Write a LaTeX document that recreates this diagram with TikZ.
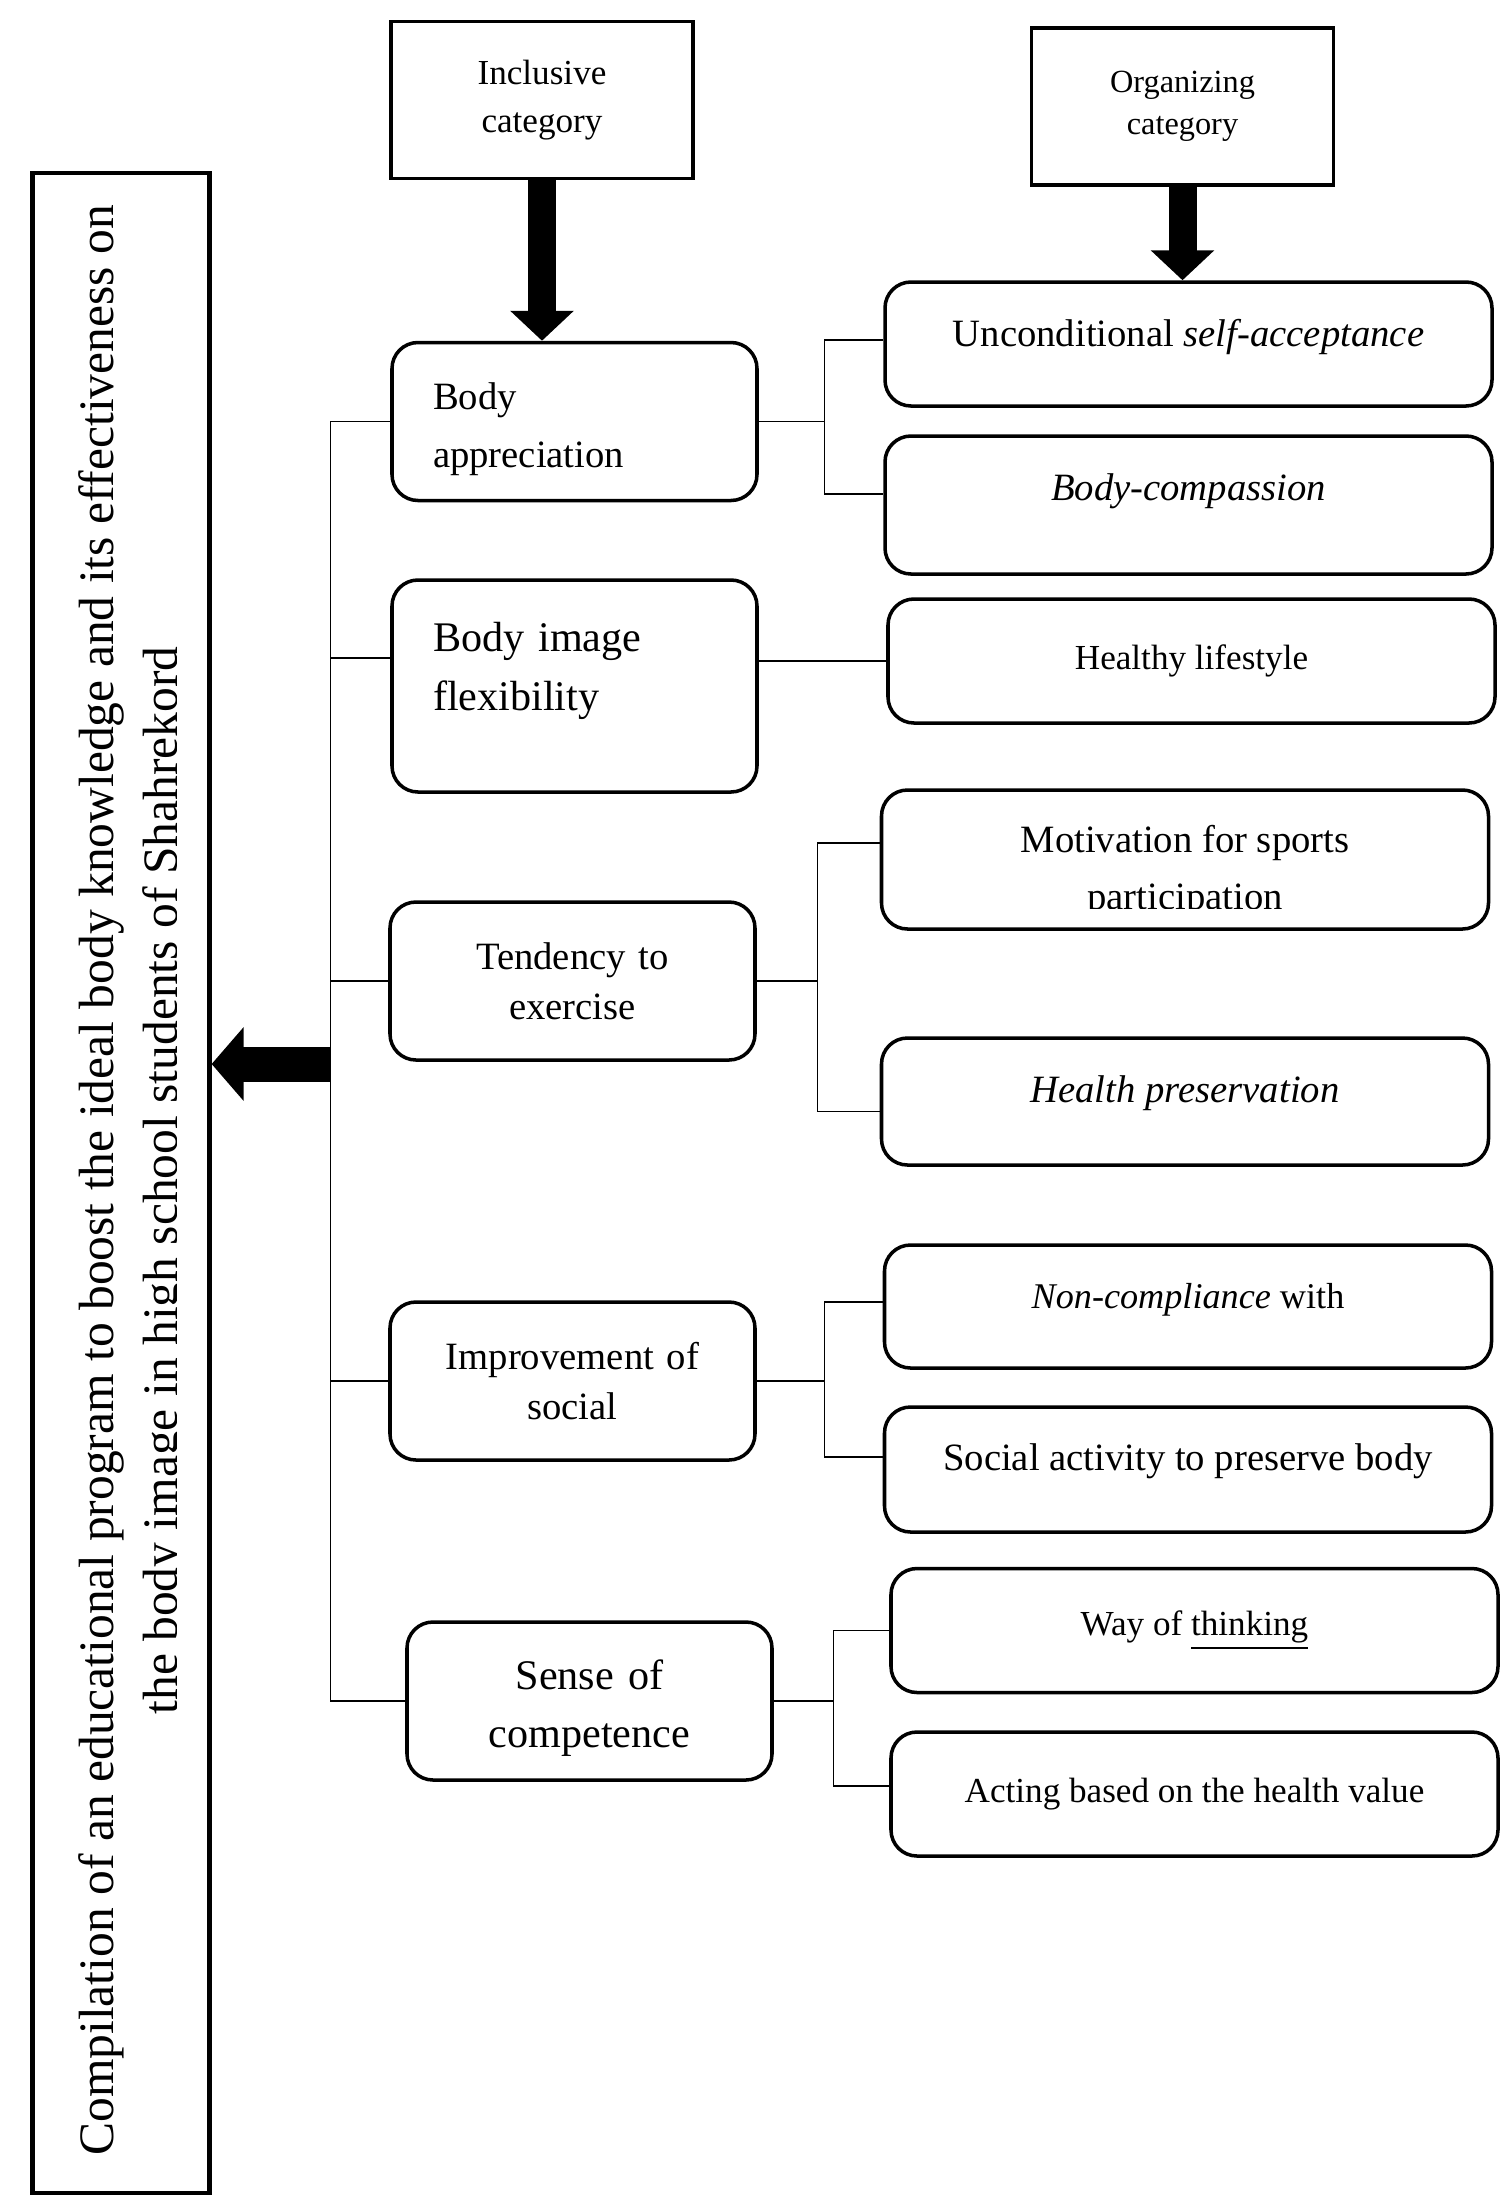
\documentclass[tikz,border=0pt]{standalone}
\usepackage{fontspec}
\setmainfont{Liberation Serif}
\usepackage{tikz}
\usetikzlibrary{arrows.meta,calc,positioning}
\tikzstyle{link}=[draw,line width=0.4pt]
\tikzstyle{bigarrow}=[draw,line width=0.28cm,-{Triangle[width=0.62cm,length=0.3cm]}]
\tikzstyle{catbox} =
  [rectangle, draw, line width=1.1pt,
   minimum width=3.02cm, minimum height=1.57cm, align=center]
\tikzstyle{leftbox} =
  [rectangle, draw, line width=1pt, rounded corners=0.26cm,
   minimum width=3.65cm, minimum height=1.58cm, text width=2.83cm, inner xsep=0.41cm]
\tikzstyle{rightbox} =
  [rectangle, draw, line width=1pt, rounded corners=0.26cm,
   minimum width=6.07cm, minimum height=1.24cm, align=center,
   font=\fontsize{11}{16}\selectfont]
\tikzstyle{progbox} =
  [rectangle, draw, line width=1.2pt, minimum width=1.77cm, minimum height=20.2cm]

\begin{document}
\begin{tikzpicture}[y=-1cm]
  \useasboundingbox (0,0) rectangle (15,21.96);
  \node [catbox, font=\fontsize{10}{13.7}\selectfont] (incl) at (5.42,1.0) {Inclusive\\category};
  \node [catbox, font=\fontsize{9.2}{12}\selectfont, right of=incl, node distance=6.405cm, yshift=-0.065cm] (org) {Organizing\\category};

  \node [leftbox, align=left, font=\fontsize{11}{16.5}\selectfont, text depth=0.5cm] (ba) at (5.745,4.215) {Body\\appreciation};
  \node [leftbox, align=left, font=\fontsize{12}{17}\selectfont, minimum height=2.12cm, text depth=0.99cm, below of=ba, node distance=2.645cm] (bif) {Body image\\flexibility};
  \node [leftbox, align=center, font=\fontsize{11}{14.2}\selectfont, below of=bif, node distance=2.95cm, xshift=-0.02cm] (te) {Tendency to\\exercise};
  \node [leftbox, align=center, font=\fontsize{11}{14.2}\selectfont, below of=te, node distance=4cm] (ims) {Improvement of\\social};
  \node [leftbox, align=center, font=\fontsize{12}{16.5}\selectfont, text depth=0.53cm, below of=ims, node distance=3.2cm, xshift=0.17cm] (soc) {Sense of\\competence};

  \node [rightbox, text depth=0.23cm] (usa) at (11.885,3.44) {Unconditional \textit{self-acceptance}};
  \node [rightbox, minimum height=1.38cm, text depth=0.35cm, below of=usa, node distance=1.61cm] (bc) {\textit{Body-compassion}};
  \node [rightbox, font=\fontsize{10}{15}\selectfont, below of=bc, node distance=1.56cm, xshift=0.03cm] (hl) {Healthy lifestyle};
  \node [rightbox, minimum height=1.39cm, below of=hl, node distance=1.985cm, xshift=-0.065cm] (msp) {};
  \node [rightbox, minimum height=1.27cm, text depth=0.24cm, below of=msp, node distance=2.42cm] (hp) {\textit{Health preservation}};
  \node [rightbox, font=\fontsize{10.3}{15}\selectfont, minimum height=1.23cm, text depth=0.21cm, below of=hp, node distance=2.05cm, xshift=0.03cm] (ncw) {\textit{Non-compliance} with};
  \node [rightbox, minimum height=1.25cm, text depth=0.25cm, below of=ncw, node distance=1.63cm] (sap) {Social activity to preserve body};
  \node [rightbox, font=\fontsize{10}{15}\selectfont, below of=sap, node distance=1.61cm, xshift=0.065cm] (wot) {Way of \underline{thinking}};
  \node [rightbox, font=\fontsize{10}{15}\selectfont, below of=wot, node distance=1.635cm] (abh) {Acting based on the health value};

  % second line cut off by the box
  \begin{scope}
    \clip (msp.north west) rectangle ([yshift=0.22cm]msp.south east);
    \node [font=\fontsize{11}{16}\selectfont, align=center] (msp-t) at ([yshift=-0.12cm]msp.center) {Motivation for sports\\participation};
  \end{scope}

  \node [progbox] (prog) at (1.21,11.83) {};
  \begin{scope}
    \clip (prog.north west) rectangle ([xshift=-0.35cm]prog.south east);
    \node [rotate=90, align=center, font=\fontsize{14.1}{18.3}\selectfont] (prog-t) at (1.335,11.805) {Compilation of an educational program to boost the ideal body knowledge and its effectiveness on\\the body image in high school students of Shahrekord};
  \end{scope}

  \draw [bigarrow] (incl.south) to (incl.south |- ba.north);
  \draw [bigarrow] (org.south) to (org.south |- usa.north);

  \coordinate (tr) at ($(ba.west)+(-0.6,0)$);
  \draw [link] (ba.west) -- (tr);
  \draw [link] ([yshift=0.28cm]bif.west) -| (tr);
  \draw [link] (te.west) -| (tr);
  \draw [link] (ims.west) -| (tr);
  \draw [link] (soc.west) -| (tr);
  \coordinate (ah) at (tr |- 0,10.64);
  \draw [bigarrow, line width=0.35cm, -{Triangle[width=0.72cm,length=0.32cm]}] (ah) to (ah -| prog.east);

  \draw [link] (ba.east) -- ++(0.66,0) coordinate (b1);
  \draw [link] ([yshift=0.04cm]usa.west) -| (b1) |- ([yshift=0.11cm]bc.west);
  \draw [link] (hl.west) -- (hl.west -| bif.east);
  \draw [link] (te.east) -- ++(0.61,0) coordinate (b2);
  \draw [link] ([yshift=0.165cm]msp.west) -| (b2) |- ([yshift=-0.1cm]hp.west);
  \draw [link] (ims.east) -- ++(0.68,0) coordinate (b3);
  \draw [link] ([yshift=0.045cm]ncw.west) -| (b3) |- ([yshift=0.125cm]sap.west);
  \draw [link] (soc.east) -- ++(0.6,0) coordinate (b4);
  \draw [link] (wot.west) -| (b4) |- ([yshift=0.08cm]abh.west);
\end{tikzpicture}
\end{document}
